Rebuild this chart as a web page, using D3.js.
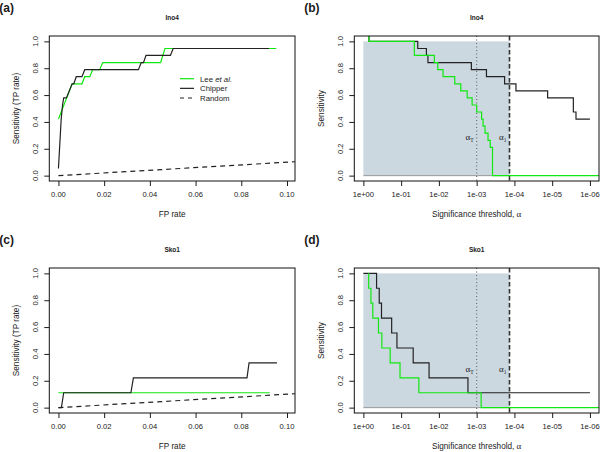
<!DOCTYPE html>
<html>
<head>
<meta charset="utf-8">
<script src="https://d3js.org/d3.v7.min.js"></script>
<style>
  body { margin: 0; background: #fff; }
  svg text { font-family: "Liberation Sans", Arial, sans-serif; fill: #1a1a1a; }
  .tick line { stroke: #1a1a1a; }
  .line { fill: none; stroke-width: 1.2px; }
</style>
</head>
<body>
<script>
// tick values and labels
var fpTicks = [0, 0.02, 0.04, 0.06, 0.08, 0.10];
var fpTickLabels = ["0.00", "0.02", "0.04", "0.06", "0.08", "0.10"];
var sensTicks = [0, 0.2, 0.4, 0.6, 0.8, 1.0];
var sensTickLabels = ["0.0", "0.2", "0.4", "0.6", "0.8", "1.0"];
var alphaTicks = [1, 1e-1, 1e-2, 1e-3, 1e-4, 1e-5, 1e-6];
var alphaTickLabels = ["1e+00", "1e-01", "1e-02", "1e-03", "1e-04", "1e-05", "1e-06"];

// significance thresholds (vertical lines)
var alphaT = 1e-3;
var alpha1 = 1.35e-4;

// ROC curves [FP rate, TP rate]
var ino4LeeRoc = [[0, 0.421], [0.0012, 0.474], [0.006, 0.684], [0.0103, 0.684], [0.0115, 0.737],
  [0.0137, 0.737], [0.015, 0.789], [0.018, 0.789], [0.0194, 0.842], [0.0447, 0.842],
  [0.0466, 0.947], [0.0953, 0.947]];
var ino4ChipperRoc = [[0, 0.053], [0.0012, 0.421], [0.0018, 0.526], [0.0023, 0.579], [0.0035, 0.579],
  [0.006, 0.684], [0.0067, 0.684], [0.0078, 0.737], [0.0103, 0.737], [0.0115, 0.789],
  [0.035, 0.789], [0.0362, 0.842], [0.0372, 0.842], [0.0383, 0.895], [0.049, 0.895],
  [0.0502, 0.947], [0.0921, 0.947]];
var sko1LeeRoc = [[0, 0.111], [0.0924, 0.111]];
var sko1ChipperRoc = [[0, 0], [0.0013, 0], [0.0023, 0.111], [0.0317, 0.111], [0.0328, 0.222],
  [0.0825, 0.222], [0.0834, 0.333], [0.0956, 0.333]];
var randomRoc = [[0, 0], [1, 1]];

// sensitivity vs significance threshold [alpha, sensitivity], step functions
var ino4LeeSens = [[0.71, 1.04], [0.71, 1.0], [0.0447, 0.895], [0.0132, 0.842], [0.0107, 0.789],
  [0.00776, 0.737], [0.0038, 0.684], [0.00263, 0.632], [0.00178, 0.579], [0.00132, 0.526],
  [0.001, 0.474], [0.00074, 0.421], [0.000676, 0.368], [0.0006, 0.316], [0.0005, 0.263],
  [0.000437, 0.211], [0.00038, 0], [3e-7, 0]];
var ino4ChipperSens = [[0.71, 1.04], [0.71, 1.0], [0.0363, 0.947], [0.0214, 0.895], [0.0195, 0.842],
  [0.00138, 0.789], [0.00055, 0.737], [0.000182, 0.684], [9.1e-5, 0.632], [1.32e-5, 0.579],
  [2.75e-6, 0.474], [2.34e-6, 0.421], [1e-6, 0.421]];
var sko1LeeSens = [[0.724, 1.0], [0.724, 0.889], [0.631, 0.778], [0.562, 0.667], [0.398, 0.556],
  [0.324, 0.444], [0.195, 0.333], [0.107, 0.222], [0.0339, 0.111], [0.00076, 0], [3e-7, 0]];
var sko1ChipperSens = [[1.0, 1.0], [0.447, 0.889], [0.38, 0.778], [0.331, 0.667], [0.178, 0.556],
  [0.129, 0.444], [0.0479, 0.333], [0.0182, 0.222], [0.0017, 0.111], [1e-6, 0.111]];

var green = "#10e810", dark = "#222";

var svg = d3.select("body").append("svg")
  .attr("width", 600).attr("height", 452);
svg.append("rect").attr("width", 600).attr("height", 452).attr("fill", "#fff");

// plot boxes
var panels = [
  {id: "a", x0: 49.3, x1: 295, y0: 36, y1: 181, kind: "roc", title: "Ino4", lee: ino4LeeRoc, chip: ino4ChipperRoc, legend: true},
  {id: "b", x0: 354.3, x1: 599, y0: 36, y1: 181, kind: "sens", title: "Ino4", lee: ino4LeeSens, chip: ino4ChipperSens},
  {id: "c", x0: 49.3, x1: 295, y0: 268, y1: 413, kind: "roc", title: "Sko1", lee: sko1LeeRoc, chip: sko1ChipperRoc},
  {id: "d", x0: 354.3, x1: 599, y0: 268, y1: 413, kind: "sens", title: "Sko1", lee: sko1LeeSens, chip: sko1ChipperSens}
];

panels.forEach(function(p) {
  var g = svg.append("g");
  var y = d3.scaleLinear().domain([-0.04, 1.04]).range([p.y1, p.y0]);
  var x;
  if (p.kind === "roc") {
    x = d3.scaleLinear().domain([-0.004, 0.1035]).range([p.x0, p.x1]);
  } else {
    x = d3.scaleLog().domain([Math.pow(10, 0.24), Math.pow(10, -6.24)]).range([p.x0, p.x1]);
  }

  var clipId = "clip-" + p.id;
  svg.append("clipPath").attr("id", clipId).append("rect")
    .attr("x", p.x0).attr("y", p.y0).attr("width", p.x1 - p.x0).attr("height", p.y1 - p.y0);
  var plot = g.append("g").attr("clip-path", "url(#" + clipId + ")");

  if (p.kind === "sens") {
    // shaded region between 1 and alpha1
    plot.append("rect")
      .attr("x", x(1)).attr("y", y(1))
      .attr("width", x(alpha1) - x(1)).attr("height", y(0) - y(1))
      .attr("fill", "#cbd8e0");
    plot.append("line")
      .attr("x1", x(1)).attr("x2", x(alpha1)).attr("y1", y(0)).attr("y2", y(0))
      .attr("stroke", "#999").attr("stroke-width", 1);
    plot.append("line")
      .attr("x1", x(alphaT)).attr("x2", x(alphaT)).attr("y1", p.y0).attr("y2", p.y1)
      .attr("stroke", "#666").attr("stroke-width", 1.1).attr("stroke-dasharray", "1,2.5");
    plot.append("line")
      .attr("x1", x(alpha1)).attr("x2", x(alpha1)).attr("y1", p.y0).attr("y2", p.y1)
      .attr("stroke", "#333").attr("stroke-width", 1.6).attr("stroke-dasharray", "4.5,2.5");

    var stepLine = d3.line().curve(d3.curveStepAfter)
      .x(function(d) { return x(d[0]); })
      .y(function(d) { return y(d[1]); });
    plot.append("path").datum(p.chip).attr("class", "line")
      .attr("stroke", dark).attr("d", stepLine);
    plot.append("path").datum(p.lee).attr("class", "line")
      .attr("stroke", green).attr("d", stepLine);

    // alpha labels
    [[alphaT, "T"], [alpha1, "1"]].forEach(function(a) {
      var t = g.append("text")
        .attr("x", x(a[0]) - 3).attr("y", y(0.265))
        .attr("text-anchor", "end")
        .style("font-family", "'Liberation Serif', serif")
        .style("font-size", "9px");
      t.append("tspan").text("\u03b1");
      t.append("tspan").attr("dy", 2).style("font-size", "5.5px").text(a[1]);
    });
  } else {
    var line = d3.line()
      .x(function(d) { return x(d[0]); })
      .y(function(d) { return y(d[1]); });
    plot.append("path").datum(randomRoc).attr("class", "line")
      .attr("stroke", dark).attr("stroke-dasharray", "5,4").attr("d", line);
    plot.append("path").datum(p.lee).attr("class", "line")
      .attr("stroke", green).attr("d", line);
    plot.append("path").datum(p.chip).attr("class", "line")
      .attr("stroke", dark).attr("d", line);
  }

  // box
  g.append("rect")
    .attr("x", p.x0).attr("y", p.y0).attr("width", p.x1 - p.x0).attr("height", p.y1 - p.y0)
    .attr("fill", "none").attr("stroke", "#111").attr("stroke-width", 1);

  // axes (ticks only, labels drawn below)
  var xTicks = p.kind === "roc" ? fpTicks : alphaTicks;
  var xLabels = p.kind === "roc" ? fpTickLabels : alphaTickLabels;
  var xAxis = g.append("g")
    .attr("transform", "translate(0," + p.y1 + ")")
    .call(d3.axisBottom(x).tickValues(xTicks).tickFormat("").tickSize(5));
  xAxis.select(".domain").remove();
  var yAxis = g.append("g")
    .attr("transform", "translate(" + p.x0 + ",0)")
    .call(d3.axisLeft(y).tickValues(sensTicks).tickFormat("").tickSize(5));
  yAxis.select(".domain").remove();

  g.selectAll(".xlab").data(xTicks).enter().append("text")
    .attr("x", function(d) { return x(d); })
    .attr("y", p.y1 + 15.8)
    .attr("text-anchor", "middle")
    .style("font-size", "7.6px")
    .text(function(d, i) { return xLabels[i]; });

  g.selectAll(".ylab").data(sensTicks).enter().append("text")
    .attr("transform", function(d) { return "translate(" + (p.x0 - 11) + "," + y(d) + ") rotate(-90)"; })
    .attr("text-anchor", "middle")
    .style("font-size", "7.6px")
    .text(function(d, i) { return sensTickLabels[i]; });

  // axis titles
  var cx = (p.x0 + p.x1) / 2, cy = (p.y0 + p.y1) / 2;
  var xt = g.append("text")
    .attr("x", cx).attr("y", p.y1 + 36)
    .attr("text-anchor", "middle")
    .style("font-size", "8.2px");
  if (p.kind === "roc") {
    xt.text("FP rate");
  } else {
    xt.append("tspan").text("Significance threshold, ");
    xt.append("tspan").style("font-family", "'Liberation Serif', serif").style("font-size", "9px").text("\u03b1");
  }
  g.append("text")
    .attr("transform", "translate(" + (p.x0 - 30.5) + "," + cy + ") rotate(-90)")
    .attr("text-anchor", "middle")
    .style("font-size", "8.2px")
    .text(p.kind === "roc" ? "Sensitivity (TP rate)" : "Sensitivity");

  // title and panel letter
  g.append("text")
    .attr("x", cx).attr("y", p.y0 - 16)
    .attr("text-anchor", "middle")
    .style("font-size", "6.5px").style("font-weight", "bold")
    .text(p.title);
  g.append("text")
    .attr("x", p.x0 - 50).attr("y", p.y0 - 24)
    .style("font-size", "12px").style("font-weight", "bold")
    .text("(" + p.id + ")");

  if (p.legend) {
    var items = [
      {label: "Lee", italic: " et al.", color: green, dash: null},
      {label: "Chipper", color: dark, dash: null},
      {label: "Random", color: dark, dash: "4,4"}
    ];
    var lg = g.append("g");
    items.forEach(function(it, i) {
      var ly = 78.7 + i * 9.65;
      lg.append("line")
        .attr("x1", 180).attr("x2", 194).attr("y1", ly).attr("y2", ly)
        .attr("stroke", it.color).attr("stroke-width", 1.2)
        .attr("stroke-dasharray", it.dash);
      var t = lg.append("text").attr("x", 200).attr("y", ly + 2.8)
        .style("font-size", "7.8px");
      t.append("tspan").text(it.label);
      if (it.italic) t.append("tspan").style("font-style", "italic").text(it.italic);
    });
  }
});
</script>
</body>
</html>
